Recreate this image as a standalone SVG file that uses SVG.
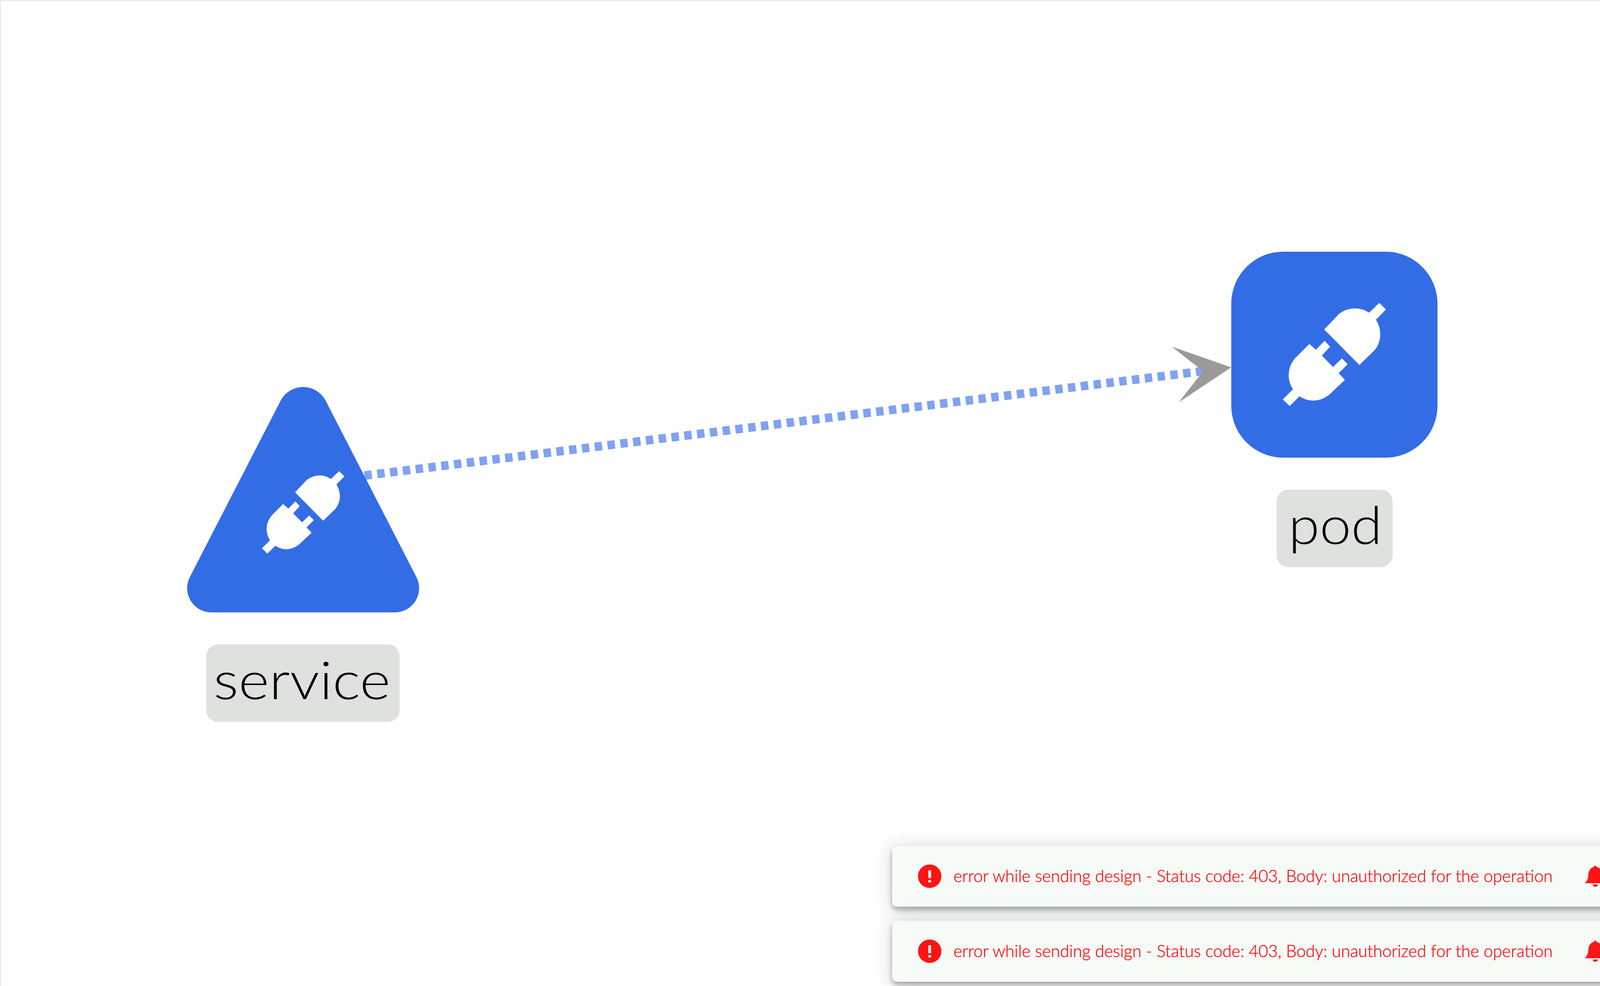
<svg xmlns="http://www.w3.org/2000/svg" xmlns:xlink="http://www.w3.org/1999/xlink" width="4137" height="2523" viewBox="0 0 4137 2523">
<style>
.shape{fill:#336de5}
.plug{fill:#fff}
.lbl{fill:#dfe1df}
.name{font-family:"Lato","Liberation Sans",sans-serif;font-weight:300;font-size:134px;fill:#000}
.toast{fill:#f7fbf8;filter:drop-shadow(0 8px 7px rgba(0,0,0,.3)) drop-shadow(0 4px 26px rgba(0,0,0,.16))}
.msg{font-family:"Lato","Liberation Sans",sans-serif;font-weight:300;font-size:44px;fill:#ff0808;stroke:#ff0808;stroke-width:.5}
.red{fill:#fd1515}
.wht{fill:#fff}
</style>
<defs>
<g id="plug-icon">
<path class="plug" d="M3390 845L3480 936L3519 898Q3533.500 880 3533.500 857Q3533.500 838 3522.500 820L3548 794L3531 777L3505 802Q3488 791 3469 791Q3447 791 3428 805Z"/>
<path class="plug" d="M3352 882L3368.500 897L3391 874L3405 889L3384 912L3412.500 941L3435.500 919L3450 934L3427 957L3443 974L3404 1011Q3385 1027 3361 1027Q3343 1027 3327 1016L3301.500 1041L3284 1024L3310 998Q3299 982 3299 962Q3299 938 3316 918Z"/>
</g>
<g id="toast-body">
<rect class="toast" x="2284" y="2164" width="1900" height="156" rx="12"/>
<circle class="red" cx="2380" cy="2242" r="30"/>
<rect class="wht" x="2376.500" y="2227" width="7" height="20"/>
<rect class="wht" x="2376.500" y="2252" width="7" height="6"/>
<text class="msg" x="2441" y="2257" textLength="1534" lengthAdjust="spacingAndGlyphs">error while sending design - Status code: 403, Body: unauthorized for the operation</text>
<path class="red" d="M4084 2215Q4087 2215 4087 2218Q4101 2221 4102 2240Q4102 2252 4110 2260L4057 2260Q4066 2252 4066 2240Q4067 2221 4081 2218Q4081 2215 4084 2215ZM4077 2263L4091 2263Q4090 2269 4084 2269Q4078 2269 4077 2263Z"/>
</g>
</defs>
<rect x="0" y="0" width="4137" height="2523" fill="#fff"/>
<path d="M1.500 2523V1.500H4135.500V2523" fill="none" stroke="#e8ecee" stroke-width="3"/>
<g id="connectors">
<line x1="933" y1="1217" x2="3085" y2="949" stroke="#7ea3f0" stroke-width="22" stroke-dasharray="19 14"/>
<polygon points="3152,940 3000,887 3080,950 3018,1029" fill="#9a9a9a"/>
</g>
<g id="node-service">
<path class="shape" d="M718 1026A65 65 0 0 1 834 1026L1066 1476.500A62 62 0 0 1 1011 1567L541 1567A62 62 0 0 1 486 1476.500Z"/>
<use xlink:href="#plug-icon" href="#plug-icon" transform="translate(776.500 1311) scale(.8) translate(-3416.500 -909)"/>
<rect class="lbl" x="528" y="1649" width="495" height="198" rx="30"/>
<text class="name" x="546.500" y="1789" textLength="453" lengthAdjust="spacingAndGlyphs">service</text>
</g>
<g id="node-pod">
<rect class="shape" x="3152" y="644" width="528" height="527" rx="133"/>
<use xlink:href="#plug-icon" href="#plug-icon" transform="translate(0 -2)"/>
<rect class="lbl" x="3268" y="1253" width="297" height="198" rx="30"/>
<text class="name" x="3298.500" y="1392" textLength="240" lengthAdjust="spacingAndGlyphs">pod</text>
</g>
<g id="toast-1"><use xlink:href="#toast-body" href="#toast-body"/></g>
<g id="toast-2"><use xlink:href="#toast-body" href="#toast-body" y="192"/></g>
</svg>
